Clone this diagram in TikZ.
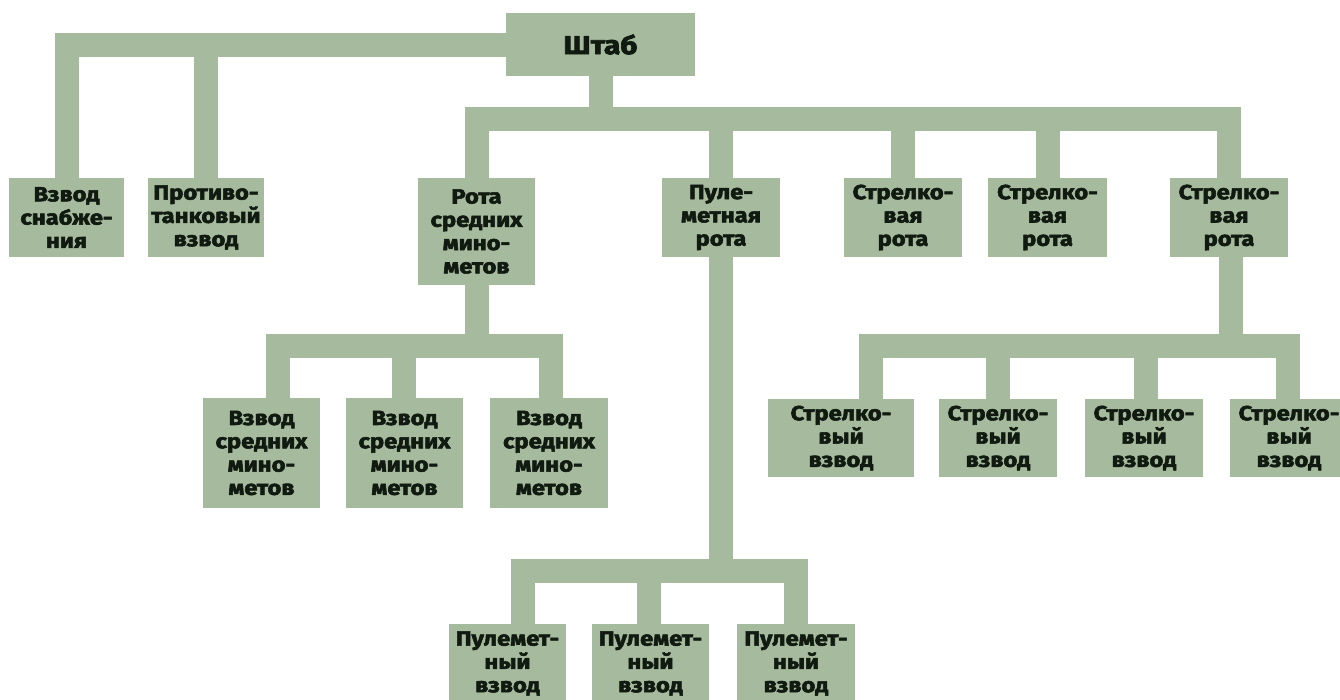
\documentclass[tikz,border=0pt]{standalone}
\usepackage{fontspec}
\setmainfont{Fira Sans}[BoldFeatures={FakeStretch=1.16,FakeBold=2.6}]
\definecolor{boxgreen}{HTML}{A6BB9D}
\definecolor{inkdark}{HTML}{101A10}
\tikzset{
  x=1pt, y=-1pt,
  unit/.style={fill=boxgreen, draw=none, inner sep=0pt, align=center,
    text=inkdark, font=\fontsize{20.5}{23.3}\selectfont\bfseries,
    minimum width=118pt, minimum height=79pt},
  hqbox/.style={unit, font=\fontsize{26}{30}\selectfont\bfseries,
    minimum width=189pt, minimum height=63pt},
  bar/.style={draw=boxgreen, line width=24pt, line join=miter, line cap=butt}
}
\begin{document}
\begin{tikzpicture}
\useasboundingbox (0,0) rectangle (1340,699);
% junction points of the bars
\coordinate (j1) at (600.5,118.5);
\coordinate (j2) at (476.5,345.5);
\coordinate (j3) at (721,571);
\coordinate (j4) at (1230.5,345.5);
% nodes
\node[hqbox] (hq) at (600.5,44.5) {Штаб};
\node[unit, minimum width=115pt] (supply) at (66.5,217.5) {Взвод\\снабже-\\ния};
\node[unit, minimum width=116pt] (at) at (206,217.5) {Противо-\\танковый\\взвод};
\node[unit, minimum width=117pt, minimum height=107pt] (mortarco) at (476.5,231.5) {Рота\\средних\\мино-\\метов};
\node[unit] (mgco) at (721,217.5) {Пуле-\\метная\\рота};
\node[unit] (r1) at (903,217.5) {Стрелко-\\вая\\рота};
\node[unit, minimum width=119pt] (r2) at (1047.5,217.5) {Стрелко-\\вая\\рота};
\node[unit] (r3) at (1229,217.5) {Стрелко-\\вая\\рота};
\node[unit, minimum width=117pt, minimum height=110pt] (m1) at (261.5,453) {Взвод\\средних\\мино-\\метов};
\node[unit, minimum width=117pt, minimum height=110pt] (m2) at (404.5,453) {Взвод\\средних\\мино-\\метов};
\node[unit, minimum height=110pt] (m3) at (549,453) {Взвод\\средних\\мино-\\метов};
\node[unit, minimum width=146pt, minimum height=78pt] (s1) at (841,438) {Стрелко-\\вый\\взвод};
\node[unit, minimum height=78pt] (s2) at (998,438) {Стрелко-\\вый\\взвод};
\node[unit, minimum height=78pt] (s3) at (1144,438) {Стрелко-\\вый\\взвод};
\node[unit, minimum height=78pt] (s4) at (1289,438) {Стрелко-\\вый\\взвод};
\node[unit, minimum width=117pt] (p1) at (507.5,663.5) {Пулемет-\\ный\\взвод};
\node[unit, minimum width=117pt] (p2) at (650.5,663.5) {Пулемет-\\ный\\взвод};
\node[unit] (p3) at (796,663.5) {Пулемет-\\ный\\взвод};
% bars
\draw[bar] (hq.west) -| (supply.north);
\draw[bar] (hq.west) -| (at.north);
\draw[bar] (hq.south) -- (j1);
\draw[bar] (j1) -| (mortarco.north);
\draw[bar] (j1) -| (mgco.north);
\draw[bar] (j1) -| (r1.north);
\draw[bar] (j1) -| (r2.north);
\draw[bar] (j1) -| (r3.north);
\draw[bar] (mortarco.south) -- (j2);
\draw[bar] (j2) -| ([xshift=16.5pt]m1.north);
\draw[bar] (j2) -| ([xshift=-1pt]m2.north);
\draw[bar] (j2) -| ([xshift=2pt]m3.north);
\draw[bar] (mgco.south) -- (j3);
\draw[bar] (j3) -| ([xshift=15.5pt]p1.north);
\draw[bar] (j3) -| ([xshift=-2pt]p2.north);
\draw[bar] (j3) -| (p3.north);
\draw[bar] ([xshift=1.5pt]r3.south) -- (j4);
\draw[bar] (j4) -| ([xshift=29.5pt]s1.north);
\draw[bar] (j4) -| (s2.north);
\draw[bar] (j4) -| ([xshift=1.5pt]s3.north);
\draw[bar] (j4) -| ([xshift=-1pt]s4.north);
\end{tikzpicture}
\end{document}
